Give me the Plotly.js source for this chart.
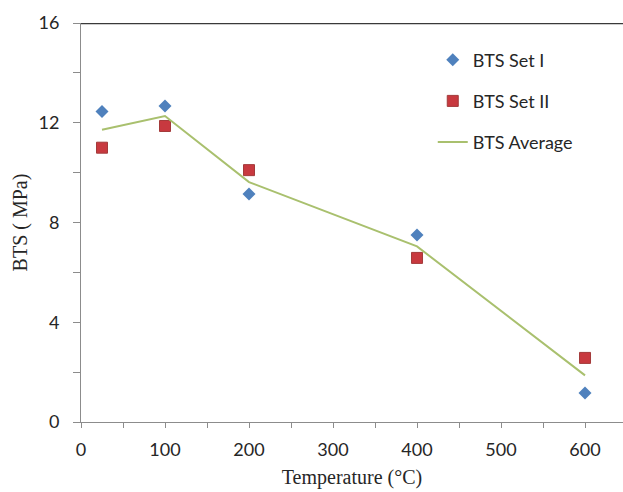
<!DOCTYPE html>
<html>
<head>
<meta charset="utf-8">
<script src="https://cdn.plot.ly/plotly-3.0.1.min.js"></script>
<style>html,body{margin:0;padding:0;background:#fff;}#chart{width:623px;height:492px;}</style>
</head>
<body>
<div id="chart"></div>
<script>
// Data
const temperature = [25, 100, 200, 400, 600];
const btsSet1 = [12.45, 12.67, 9.14, 7.5, 1.16];
const btsSet2 = [11.0, 11.87, 10.1, 6.58, 2.57];
const btsAverage = [11.72, 12.27, 9.62, 7.04, 1.87];
const xTicks = [0, 100, 200, 300, 400, 500, 600];
const yTicks = [0, 4, 8, 12, 16];

const tickFont = {family: 'Lato, "Open Sans", sans-serif', size: 18, color: '#262626'};
const titleFont = {family: '"Liberation Serif", "Times New Roman", serif', size: 20, color: '#262626'};
const legFont = {family: 'Lato, "Open Sans", sans-serif', size: 18, color: '#262626'};

const traces = [
  {x: temperature, y: btsSet1, name: 'BTS Set I', type: 'scatter', mode: 'markers',
   legend: 'legend',
   marker: {symbol: 'diamond', size: 10, color: '#4f81bd', line: {width: 0}}},
  {x: temperature, y: btsSet2, name: 'BTS Set II', type: 'scatter', mode: 'markers',
   legend: 'legend2',
   marker: {symbol: 'square', size: 11, color: '#c8393f', line: {width: 1, color: '#a33a3a'}}},
  {x: temperature, y: btsAverage, name: 'BTS Average', type: 'scatter', mode: 'lines',
   legend: 'legend3',
   line: {color: '#a9c06e', width: 2}}
];

function leg(y) {
  return {x: 0.649, y: y, xanchor: 'left', yanchor: 'middle', bgcolor: 'rgba(0,0,0,0)',
          borderwidth: 0, font: legFont};
}

const layout = {
  width: 623, height: 492,
  margin: {l: 81, r: 0, t: 23, b: 70},
  paper_bgcolor: '#ffffff', plot_bgcolor: '#ffffff',
  showlegend: true,
  legend: leg(0.907),
  legend2: leg(0.804),
  legend3: leg(0.701),
  xaxis: {
    range: [0, 645.2], tickvals: xTicks, ticktext: xTicks.map(String),
    showgrid: false, zeroline: false, showline: true, linecolor: '#8c8c8c', linewidth: 1,
    ticks: 'outside', ticklen: 5, tickcolor: '#8c8c8c', tickwidth: 1,
    minor: {dtick: 50, tick0: 0, ticks: 'outside', ticklen: 5, tickcolor: '#8c8c8c', showgrid: false},
    tickfont: tickFont, ticklabelstandoff: 6,
    title: {text: 'Temperature (°C)', font: titleFont, standoff: 11}
  },
  yaxis: {
    range: [0, 16], tickvals: yTicks, ticktext: yTicks.map(String),
    showgrid: false, zeroline: false, showline: true, linecolor: '#8c8c8c', linewidth: 1,
    ticks: 'outside', ticklen: 7, tickcolor: '#8c8c8c', tickwidth: 1,
    minor: {dtick: 2, tick0: 0, ticks: 'outside', ticklen: 7, tickcolor: '#8c8c8c', showgrid: false},
    tickfont: tickFont, ticklabelstandoff: 10,
    title: {text: 'BTS ( MPa)', font: titleFont, standoff: 5}
  },
  shapes: [
    {type: 'line', xref: 'paper', yref: 'y', x0: 0, x1: 1, y0: 16, y1: 16,
     line: {color: '#3a3a3a', width: 2.5}}
  ]
};

Plotly.newPlot('chart', traces, layout, {displayModeBar: false, staticPlot: true});
</script>
</body>
</html>
